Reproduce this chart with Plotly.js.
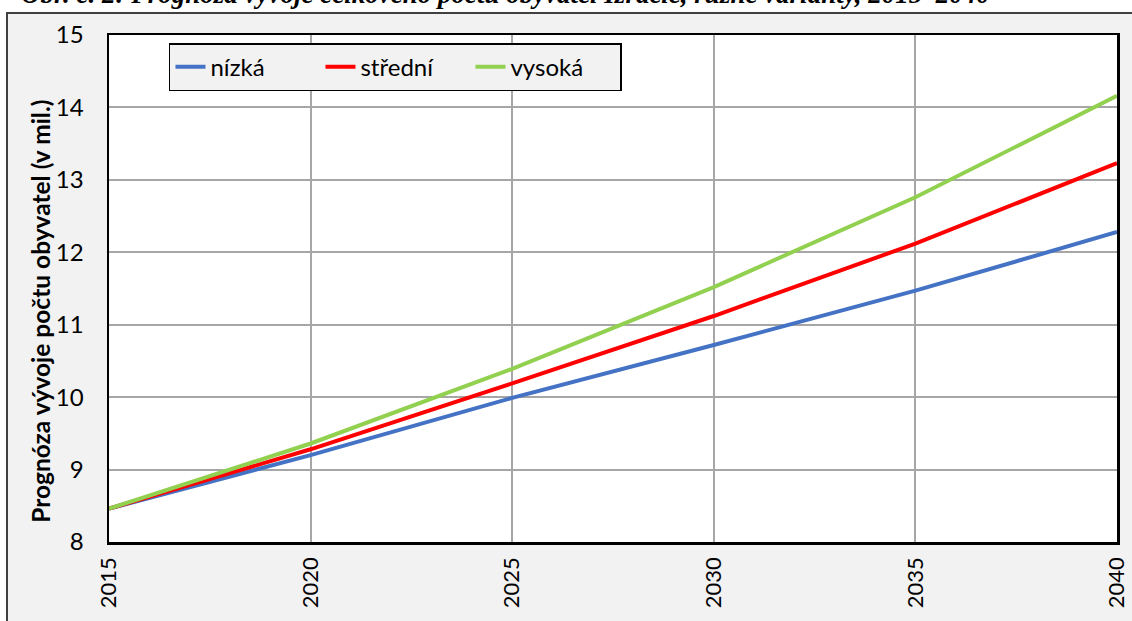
<!DOCTYPE html>
<html>
<head>
<meta charset="utf-8">
<script src="https://cdn.plot.ly/plotly-3.0.1.min.js"></script>
<style>
  html, body { margin: 0; padding: 0; background: #fff; }
  #chart { width: 1132px; height: 621px; }
</style>
</head>
<body>
<div id="chart"></div>
<script>
// Prognóza vývoje počtu obyvatel (v mil.), 2015–2040
const years = [2015, 2020, 2025, 2030, 2035, 2040];
const nizka = [8.46, 9.20, 9.99, 10.72, 11.47, 12.28];
const stredni = [8.46, 9.28, 10.19, 11.12, 12.12, 13.23];
const vysoka = [8.46, 9.36, 10.39, 11.52, 12.76, 14.16];
const seriesNames = ['nízká', 'střední', 'vysoká'];
const yTicks = [8, 9, 10, 11, 12, 13, 14, 15];
const xTicks = [2015, 2020, 2025, 2030, 2035, 2040];

const colors = ['#4472c4', '#ff0000', '#92d050'];
const font = 'Lato, "Open Sans", sans-serif';

const traces = [nizka, stredni, vysoka].map(function(vals, i) {
    return {
        x: years,
        y: vals,
        name: seriesNames[i],
        mode: 'lines',
        type: 'scatter',
        line: { color: colors[i], width: 4 }
    };
});

const layout = {
    width: 1132,
    height: 621,
    margin: { l: 109, r: 15, t: 35, b: 79 },
    paper_bgcolor: '#f2f2f2',
    plot_bgcolor: '#ffffff',
    font: { family: font, size: 24, color: '#000' },
    showlegend: true,
    legend: {
        orientation: 'h',
        x: 0.0595, xanchor: 'left',
        y: 0.984, yanchor: 'top',
        bgcolor: '#f2f2f2',
        bordercolor: '#000',
        borderwidth: 1.5,
        entrywidth: 105,
        font: { family: font, size: 24 }
    },
    xaxis: {
        range: [2015, 2040],
        tickvals: xTicks,
        ticktext: xTicks.map(String),
        tickangle: -90,
        tickfont: { family: font, size: 22 },
        ticks: '',
        ticklabelstandoff: 4,
        showgrid: true,
        gridcolor: '#a6a6a6',
        gridwidth: 2,
        showline: true,
        linecolor: '#000',
        linewidth: 2.5,
        mirror: true,
        zeroline: false,
        fixedrange: true
    },
    yaxis: {
        range: [8, 15],
        tickvals: yTicks,
        ticks: '',
        ticklabelstandoff: 18,
        showgrid: true,
        gridcolor: '#a6a6a6',
        gridwidth: 2,
        showline: true,
        linecolor: '#000',
        linewidth: 2.5,
        mirror: true,
        zeroline: false,
        fixedrange: true
    },
    shapes: [
        // white page area outside the chart frame
        { type: 'rect', xref: 'paper', yref: 'paper', x0: -0.2, x1: 1.1, y0: 1.0434, y1: 1.2,
          fillcolor: '#fff', line: { width: 0 }, layer: 'below' },
        { type: 'rect', xref: 'paper', yref: 'paper', x0: -0.2, x1: -0.1012, y0: -0.3, y1: 1.2,
          fillcolor: '#fff', line: { width: 0 }, layer: 'below' },
        // chart frame
        { type: 'rect', xref: 'paper', yref: 'paper', x0: -0.1012, x1: 1.05, y0: -0.3, y1: 1.0434,
          fillcolor: 'rgba(0,0,0,0)', line: { color: '#404040', width: 2 }, layer: 'above' }
    ],
    annotations: [
        { xref: 'paper', yref: 'paper', x: -0.089, xanchor: 'left', y: 1.047, yanchor: 'bottom',
          showarrow: false,
          text: '<b><i>Obr. č. 2: Prognóza vývoje celkového počtu obyvatel Izraele, různé varianty, 2015–2040</i></b>',
          font: { family: '"Liberation Serif", "DejaVu Serif", serif', size: 27, color: '#000' } },
        { xref: 'paper', yref: 'paper', x: -0.0675, xanchor: 'center', y: 0.456, yanchor: 'middle',
          showarrow: false, textangle: -90,
          text: '<b>Prognóza vývoje počtu obyvatel (v mil.)</b>',
          font: { family: font, size: 24.5, color: '#000' } }
    ]
};

Plotly.newPlot('chart', traces, layout, { displayModeBar: false, staticPlot: true });
</script>
</body>
</html>
